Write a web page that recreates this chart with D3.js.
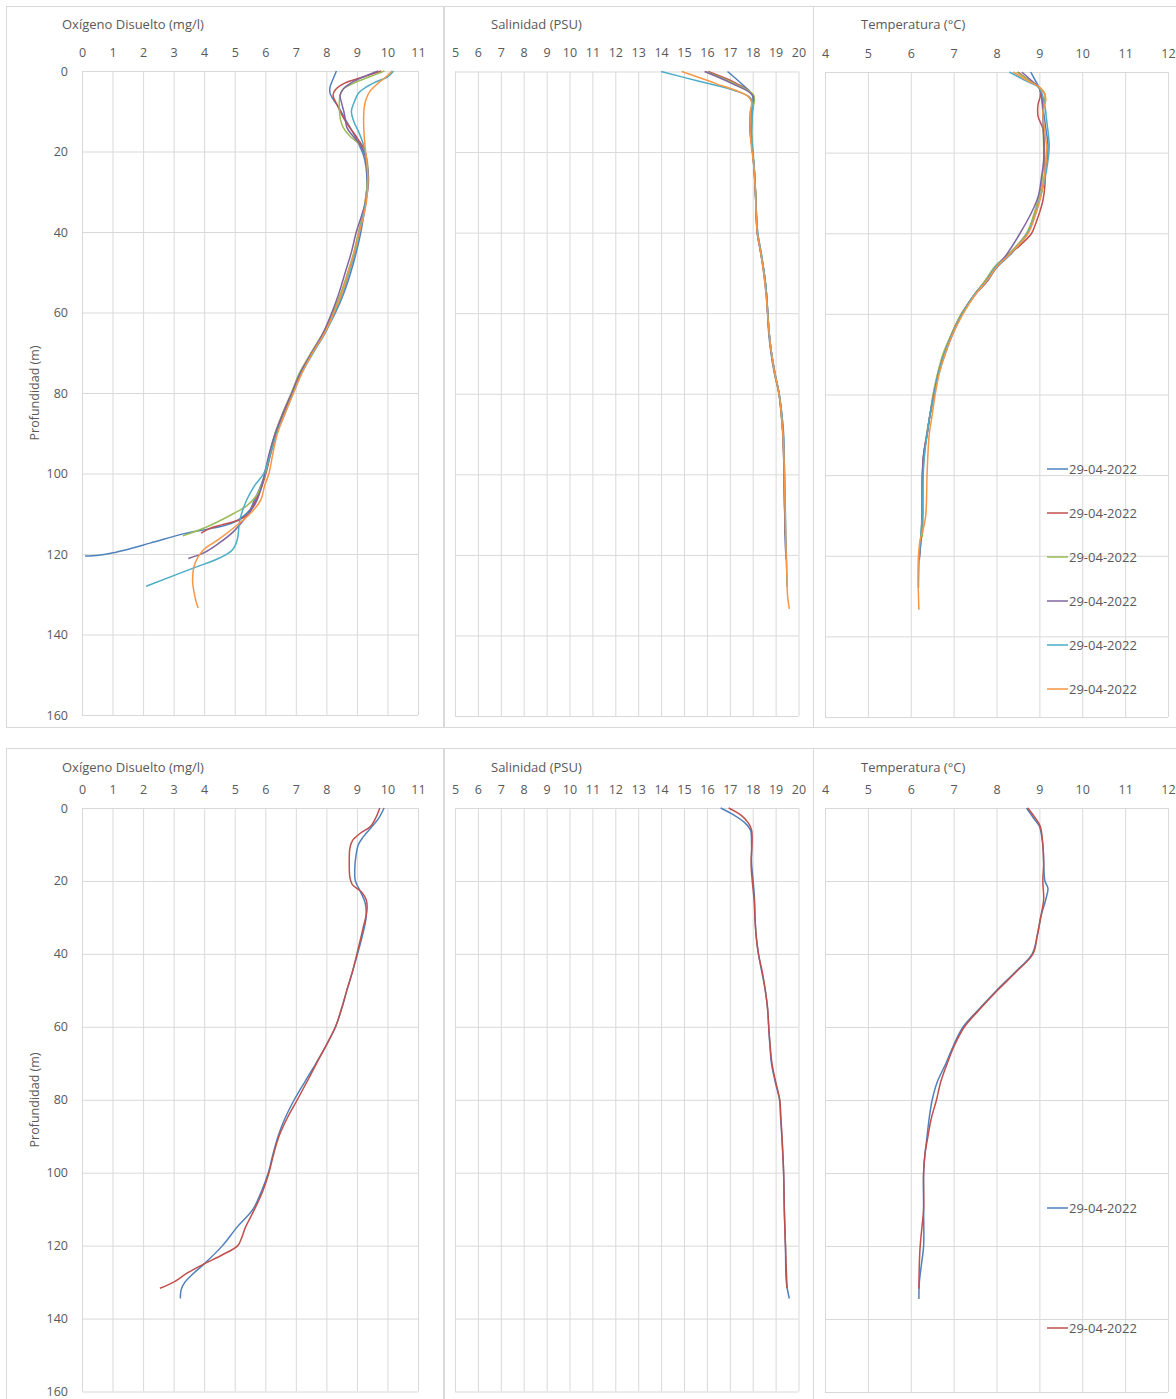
<!DOCTYPE html>
<html>
<head>
<meta charset="utf-8">
<script src="https://cdn.jsdelivr.net/npm/d3@7"></script>
<style>
  html, body { margin: 0; padding: 0; background: #fff; }
  svg { display: block; }
  text { font-family: "Open Sans", "Noto Sans", sans-serif; fill: #595959; }
</style>
</head>
<body>
<svg id="chart" width="1176" height="1399"></svg>
<script>
// ---------------- DATA ----------------
const seriesLabels = ["29-04-2022","29-04-2022","29-04-2022","29-04-2022","29-04-2022","29-04-2022"];
const seriesColors = ["#4F81BD","#C0504D","#9BBB59","#8064A2","#4BACC6","#F79646"];

const oxTicks = [0,1,2,3,4,5,6,7,8,9,10,11];
const salTicks = [5,6,7,8,9,10,11,12,13,14,15,16,17,18,19,20];
const tempTicks = [4,5,6,7,8,9,10,11,12];
const depthTicks = [0,20,40,60,80,100,120,140,160];

const panelTitles = ["Oxígeno Disuelto (mg/l)", "Salinidad (PSU)", "Temperatura (°C)"];
const depthTitle = "Profundidad (m)";

// [depth (m), value] — upper group, six casts
const oxTop1 = [[0,8.33],[2,8.22],[4,8.12],[5.5,8.12],[7,8.22],[9,8.4],[12,8.62],[15,8.85],[18,9.05],[21,9.22],[24,9.3],[28,9.33],[32,9.3],[36,9.22],[40,9.13],[45,8.98],[50,8.8],[55,8.58],[60,8.3],[65,7.95],[70,7.55],[75,7.18],[80,6.9],[85,6.6],[90,6.33],[95,6.15],[100,6.0],[104,5.8],[107,5.62],[109,5.5],[112.2,4.95],[115,3.31],[117.3,2.23],[119.7,1.02],[120.3,0.55],[120.5,0.1]];
const oxTop2 = [[0,9.8],[1.5,9.2],[3,8.6],[4.7,8.29],[6,8.22],[8.4,8.35],[11.8,8.57],[14.2,8.78],[17.1,9.05],[20,9.27],[23,9.33],[27,9.35],[32,9.28],[36,9.2],[40,9.07],[45,8.92],[50,8.72],[55,8.5],[60,8.22],[65,7.92],[70,7.52],[75,7.15],[80,6.88],[85,6.6],[90,6.35],[95,6.18],[100,6.02],[104,5.85],[108,5.6],[110,5.45],[111.5,5.15],[112.7,4.6],[113.6,4.2],[114.8,3.9]];
const oxTop3 = [[0,9.9],[1.5,9.4],[3,8.9],[4.5,8.55],[6,8.45],[8,8.42],[10,8.43],[12,8.46],[14,8.55],[16,8.75],[18,9.05],[20,9.25],[23,9.35],[27,9.35],[32,9.28],[36,9.18],[40,9.05],[45,8.9],[50,8.7],[55,8.48],[60,8.2],[65,7.9],[70,7.5],[75,7.12],[80,6.85],[85,6.57],[90,6.32],[95,6.15],[100,6.0],[105,5.75],[108,5.4],[110,4.95],[113.3,4.08],[115.5,3.3]];
const oxTop4 = [[0,9.7],[1.5,9.2],[3,8.8],[4.5,8.55],[6,8.45],[8,8.5],[10,8.57],[12,8.62],[14,8.67],[16,8.85],[18,9.08],[20,9.22],[23,9.33],[27,9.38],[32,9.3],[36,9.15],[40,8.98],[45,8.82],[50,8.62],[55,8.42],[60,8.18],[65,7.9],[70,7.52],[75,7.15],[80,6.87],[85,6.58],[90,6.33],[95,6.13],[100,5.98],[104,5.85],[107.4,5.68],[111,5.35],[114.5,4.95],[117.5,4.45],[119.8,3.97],[121.1,3.48]];
const oxTop5 = [[0,10.2],[1.5,10.0],[2.6,9.65],[4,9.3],[5.5,9.05],[7.6,8.92],[10,8.82],[12.6,8.9],[15,9.05],[17.5,9.18],[20,9.27],[23,9.33],[27,9.36],[32,9.3],[36,9.2],[40,9.08],[45,8.95],[50,8.75],[55,8.55],[60,8.27],[65,7.97],[70,7.57],[75,7.2],[80,6.92],[85,6.65],[90,6.38],[95,6.18],[100,5.95],[103,5.65],[106.6,5.39],[111.5,5.17],[116.5,5.08],[119,4.92],[121,4.5],[123.5,3.64],[128,2.1]];
const oxTop6 = [[0,10.15],[1.5,9.95],[3,9.7],[5,9.43],[7,9.3],[8.5,9.25],[11.7,9.22],[15,9.23],[19,9.27],[23,9.33],[27,9.36],[32,9.32],[36,9.22],[40,9.08],[45,8.92],[50,8.72],[55,8.52],[60,8.25],[65,7.95],[70,7.55],[75,7.2],[80,6.92],[85,6.65],[90,6.4],[95,6.25],[100,6.12],[103,5.98],[106.6,5.85],[110,5.5],[113.6,4.95],[116.5,4.45],[119,3.97],[122.3,3.7],[126.5,3.62],[130.7,3.7],[133.4,3.8]];

const salTop1 = [[0,16.9],[3,17.5],[6,18.0],[10,17.98],[15,17.95],[20,18.0],[25,18.08],[30,18.12],[35,18.16],[40,18.2],[45,18.35],[50,18.5],[55,18.6],[60,18.65],[65,18.7],[70,18.8],[75,18.95],[80,19.15],[85,19.27],[90,19.35],[95,19.37],[100,19.38],[110,19.4],[115,19.42],[120.5,19.45]];
const salTop2 = [[0,16.05],[3,17.3],[6,18.02],[10,17.97],[15,17.93],[20,18.0],[25,18.07],[30,18.12],[35,18.15],[40,18.2],[45,18.36],[50,18.5],[55,18.6],[60,18.66],[65,18.72],[70,18.82],[75,18.97],[80,19.15],[85,19.25],[90,19.32],[95,19.35],[100,19.37],[110,19.4],[114.8,19.41]];
const salTop3 = [[0,15.95],[3,17.2],[6,18.05],[10,17.98],[15,17.95],[20,18.02],[25,18.08],[30,18.13],[35,18.16],[40,18.22],[45,18.37],[50,18.5],[55,18.6],[60,18.66],[65,18.72],[70,18.82],[75,18.96],[80,19.14],[85,19.24],[90,19.31],[95,19.35],[100,19.37],[110,19.4],[115.5,19.42]];
const salTop4 = [[0,15.9],[3,17.1],[6,18.0],[10,17.9],[14,17.87],[18,17.95],[22,18.03],[26,18.08],[30,18.12],[35,18.15],[40,18.2],[45,18.35],[50,18.48],[55,18.58],[60,18.65],[65,18.72],[70,18.82],[75,18.97],[80,19.15],[85,19.25],[90,19.32],[95,19.35],[100,19.37],[110,19.4],[115,19.42],[121.1,19.45]];
const salTop5 = [[0,14.0],[2.5,15.7],[4.7,17.2],[6.5,17.9],[8,18.0],[12,17.97],[16,17.95],[20,18.0],[25,18.08],[30,18.12],[35,18.16],[40,18.22],[45,18.37],[50,18.5],[55,18.6],[60,18.66],[65,18.72],[70,18.83],[75,18.98],[80,19.16],[85,19.27],[90,19.33],[95,19.37],[100,19.4],[110,19.43],[120,19.47],[128,19.5]];
const salTop6 = [[0,14.9],[3,16.4],[6,17.75],[7.5,17.95],[10,17.9],[14,17.88],[18,17.93],[22,18.02],[26,18.08],[30,18.12],[35,18.15],[40,18.2],[45,18.35],[50,18.48],[55,18.58],[60,18.65],[65,18.72],[70,18.82],[75,18.97],[80,19.15],[85,19.25],[90,19.32],[95,19.36],[100,19.38],[110,19.42],[120,19.46],[126,19.5],[130,19.52],[133.4,19.6]];

const tempTop1 = [[0,8.8],[2,8.9],[4,9.0],[6,9.05],[10,9.1],[14,9.15],[18,9.2],[22,9.18],[26,9.12],[30,9.05],[35,8.9],[40,8.72],[45,8.35],[48,8.05],[52,7.75],[55,7.5],[60,7.2],[65,6.98],[70,6.8],[75,6.65],[80,6.55],[85,6.45],[90,6.38],[95,6.3],[100,6.27],[110,6.27],[115,6.25],[120.5,6.2]];
const tempTop2 = [[0,8.5],[2,8.75],[4,9.0],[6,9.02],[8,8.97],[11,8.97],[14,9.08],[20,9.12],[28,9.13],[32,9.08],[35,9.0],[38,8.9],[40,8.82],[43,8.55],[45.5,8.25],[48,8.0],[52,7.72],[55,7.5],[60,7.18],[65,6.95],[70,6.78],[75,6.63],[80,6.53],[85,6.45],[90,6.37],[95,6.3],[100,6.28],[110,6.28],[114.8,6.27]];
const tempTop3 = [[0,8.47],[2,8.75],[4,9.03],[5.4,9.13],[8,9.1],[14,9.09],[22,9.1],[28,9.05],[31,8.98],[35,8.88],[40,8.7],[45.5,8.25],[48,7.98],[52,7.72],[55,7.5],[60,7.18],[65,6.95],[70,6.75],[75,6.62],[80,6.52],[85,6.45],[90,6.37],[95,6.32],[100,6.28],[110,6.28],[115.5,6.27]];
const tempTop4 = [[0,8.59],[2,8.8],[4,9.0],[6,9.05],[10,9.08],[16,9.1],[22,9.1],[26,9.05],[30.6,8.98],[34.8,8.82],[40,8.55],[45.5,8.22],[48,8.02],[52,7.78],[55,7.52],[60,7.2],[65,6.97],[70,6.78],[75,6.64],[80,6.54],[85,6.45],[90,6.38],[95,6.3],[100,6.27],[110,6.26],[115,6.24],[121.1,6.2]];
const tempTop5 = [[0,8.3],[2,8.65],[4,9.0],[8,9.12],[12,9.17],[18.2,9.23],[22,9.2],[27,9.12],[31,9.02],[35,8.92],[40,8.72],[45.5,8.28],[48,8.0],[52,7.75],[55,7.5],[60,7.2],[65,6.97],[70,6.78],[75,6.64],[80,6.55],[85,6.45],[90,6.38],[95,6.32],[100,6.29],[110,6.27],[120,6.2],[128,6.18]];
const tempTop6 = [[0,8.39],[2,8.7],[4,9.02],[6.6,9.15],[10,9.08],[14,9.12],[19,9.17],[23,9.15],[27,9.1],[31,9.03],[35,8.92],[40,8.74],[45.5,8.28],[48,8.03],[52,7.76],[55,7.52],[60,7.22],[65,6.98],[70,6.8],[75,6.66],[80,6.57],[85,6.5],[90,6.43],[95,6.4],[100,6.38],[105,6.37],[110,6.35],[113,6.3],[116,6.22],[120,6.18],[126,6.17],[130,6.18],[133.4,6.19]];

// lower group, two casts
const oxBot1 = [[0,9.89],[3,9.7],[5,9.5],[8,9.2],[10,9.05],[13,8.97],[17,8.93],[20,8.95],[23,9.12],[26,9.27],[30,9.3],[35,9.18],[40,9.02],[45,8.85],[50,8.67],[55,8.5],[60,8.3],[65,8.0],[70,7.66],[75,7.3],[80,6.95],[85,6.65],[90,6.42],[95,6.25],[100,6.1],[105,5.88],[110,5.6],[115,5.07],[120,4.6],[125,4.0],[128,3.6],[130,3.37],[132,3.25],[134.5,3.22]];
const oxBot2 = [[0,9.75],[3,9.6],[5,9.45],[7,9.1],[9,8.85],[11,8.77],[15,8.75],[19,8.77],[21,8.85],[23,9.15],[25,9.3],[28,9.33],[33,9.2],[40,9.0],[45,8.85],[50,8.67],[55,8.5],[60,8.3],[65,8.0],[70,7.68],[75,7.37],[80,7.05],[85,6.72],[90,6.45],[95,6.27],[100,6.12],[105,5.92],[110,5.65],[115,5.35],[118,5.22],[120,5.1],[122.5,4.6],[125,4.0],[127.5,3.45],[130,3.0],[131.7,2.55]];
const salBot1 = [[0,16.6],[2,17.2],[4,17.65],[6,17.9],[10,17.95],[15,17.95],[20,18.02],[25,18.08],[30,18.1],[35,18.15],[40,18.25],[45,18.4],[50,18.55],[55,18.65],[60,18.7],[65,18.75],[70,18.82],[75,18.98],[80,19.17],[85,19.22],[90,19.27],[100,19.35],[110,19.38],[120,19.43],[130,19.47],[134.5,19.6]];
const salBot2 = [[0,16.95],[2,17.5],[4,17.8],[6,17.95],[10,17.97],[15,17.93],[20,17.98],[25,18.06],[30,18.1],[35,18.15],[40,18.25],[45,18.42],[50,18.55],[55,18.65],[60,18.7],[65,18.76],[70,18.84],[75,19.0],[80,19.18],[85,19.23],[90,19.28],[100,19.35],[110,19.38],[120,19.43],[131.7,19.5]];
const tempBot1 = [[0,8.7],[3,8.88],[5,9.0],[10,9.08],[15,9.1],[20,9.13],[22,9.2],[25,9.15],[30,9.03],[35,8.95],[40,8.83],[45,8.43],[50,8.0],[55,7.6],[60,7.22],[65,7.0],[70,6.82],[75,6.62],[80,6.5],[85,6.43],[90,6.38],[95,6.33],[100,6.3],[110,6.3],[120,6.3],[125,6.25],[130,6.2],[134.5,6.19]];
const tempBot2 = [[0,8.73],[3,8.92],[5,9.02],[10,9.08],[15,9.1],[20,9.08],[25,9.1],[30,9.03],[35,8.95],[40,8.85],[45,8.45],[50,8.02],[55,7.62],[60,7.25],[65,7.02],[70,6.85],[75,6.7],[80,6.6],[85,6.48],[90,6.4],[95,6.33],[100,6.3],[110,6.3],[115,6.26],[120,6.22],[125,6.2],[131.7,6.19]];

// ---------------- LAYOUT ----------------
const svg = d3.select("#chart");
const GRID = "#d9d9d9";
const TEXT = "#595959";

const colSpecs = [
  { frame: [6.5, 443.5], plotX: [82, 418], domain: [0, 11], ticks: oxTicks, titleX: 62, yLabels: true },
  { frame: [444.5, 813.5], plotX: [455, 798.5], domain: [5, 20], ticks: salTicks, titleX: 491, yLabels: false },
  { frame: [813.5, 1185], plotX: [825, 1168], domain: [4, 12], ticks: tempTicks, titleX: 861, yLabels: false }
];
const rowSpecs = [
  { frame: [6.5, 727.5], plotY: [[71, 715], [71.5, 716], [72, 717]], titleY: 29, yTitleY: 393,
    data: [[oxTop1,oxTop2,oxTop3,oxTop4,oxTop5,oxTop6],
           [salTop1,salTop2,salTop3,salTop4,salTop5,salTop6],
           [tempTop1,tempTop2,tempTop3,tempTop4,tempTop5,tempTop6]],
    legendY0: 469, legendStep: 44 },
  { frame: [748.5, 1410], plotY: [[808, 1391.5], [808, 1391.5], [808, 1392]], titleY: 772, yTitleY: 1100,
    data: [[oxBot1,oxBot2],[salBot1,salBot2],[tempBot1,tempBot2]],
    legendY0: 1208, legendStep: 120 }
];

rowSpecs.forEach((row, ri) => {
  colSpecs.forEach((col, ci) => {
    const g = svg.append("g");
    // frame
    g.append("rect")
      .attr("x", col.frame[0]).attr("y", row.frame[0])
      .attr("width", col.frame[1] - col.frame[0])
      .attr("height", row.frame[1] - row.frame[0])
      .attr("fill", "#fff").attr("stroke", GRID).attr("stroke-width", 1);

    const py = row.plotY[ci];
    const x = d3.scaleLinear().domain(col.domain).range(col.plotX);
    const y = d3.scaleLinear().domain([0, 160]).range(py);
    const W = col.plotX[1] - col.plotX[0];
    const H = py[1] - py[0];

    // y gridlines / labels
    const yAxis = d3.axisLeft(y).tickValues(depthTicks).tickSize(-W).tickPadding(14)
      .tickFormat(col.yLabels ? d3.format("d") : () => "");
    const gy = g.append("g").attr("transform", `translate(${col.plotX[0]},0)`).call(yAxis);
    gy.select(".domain").remove();
    gy.selectAll("line").attr("stroke", GRID);
    gy.selectAll("text").attr("fill", TEXT).style("font-size", "12.5px");

    // x gridlines / labels
    const xAxis = d3.axisTop(x).tickValues(col.ticks).tickSize(-H).tickPadding(14.5).tickFormat(d3.format("d"));
    const gx = g.append("g").attr("transform", `translate(0,${py[0]})`).call(xAxis);
    gx.select(".domain").remove();
    gx.selectAll("line").attr("stroke", GRID);
    gx.selectAll("text").attr("fill", TEXT).style("font-size", "12.5px");

    // title
    g.append("text").attr("x", col.titleX).attr("y", row.titleY)
      .style("font-size", "13px").attr("fill", TEXT).text(panelTitles[ci]);

    if (col.yLabels) {
      g.append("text")
        .attr("transform", `translate(35,${row.yTitleY}) rotate(-90)`)
        .attr("text-anchor", "middle").attr("dy", "0.35em")
        .style("font-size", "12.5px").attr("fill", TEXT).text(depthTitle);
    }

    // series
    const line = d3.line().x(d => x(d[1])).y(d => y(d[0])).curve(d3.curveCatmullRom.alpha(0.5));
    row.data[ci].forEach((s, si) => {
      g.append("path").datum(s)
        .attr("d", line)
        .attr("fill", "none")
        .attr("stroke", seriesColors[si])
        .attr("stroke-width", 1.5)
        .attr("stroke-linejoin", "round");
    });

    // legend in the last column
    if (ci === 2) {
      const n = row.data[ci].length;
      const lg = g.append("g");
      for (let i = 0; i < n; i++) {
        const ly = row.legendY0 + i * row.legendStep;
        lg.append("line").attr("x1", 1047).attr("x2", 1068).attr("y1", ly).attr("y2", ly)
          .attr("stroke", seriesColors[i]).attr("stroke-width", 1.5);
        lg.append("text").attr("x", 1069).attr("y", ly).attr("dy", "0.35em")
          .style("font-size", "13px").attr("fill", TEXT).text(seriesLabels[i]);
      }
    }
  });
});
</script>
</body>
</html>
